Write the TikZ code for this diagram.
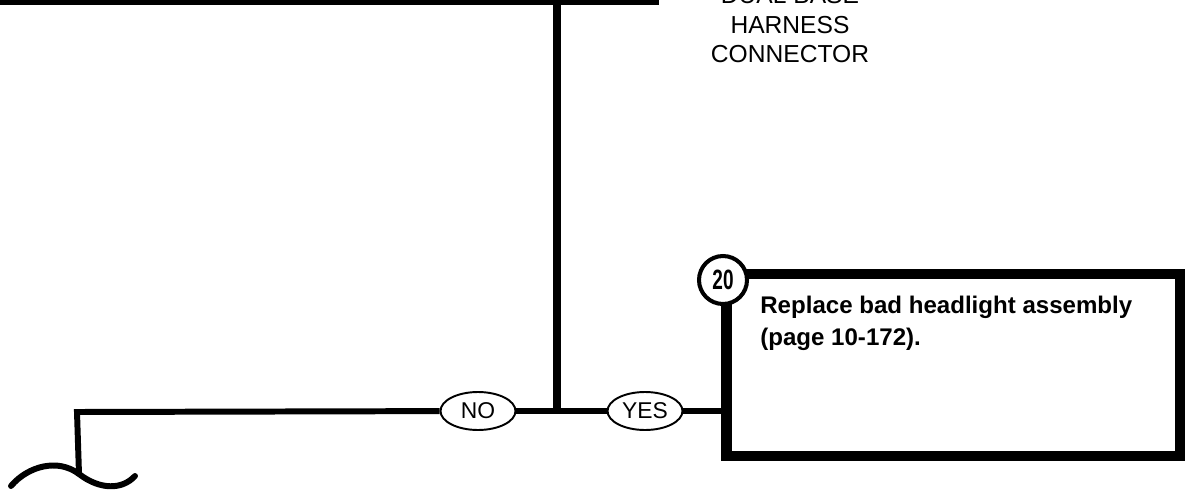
\documentclass[tikz,border=0pt]{standalone}
\usepackage{fontspec}
\setmainfont{Liberation Sans}
\usepackage{graphicx}
\usetikzlibrary{positioning, shapes.geometric, calc}

\begin{document}
\begin{tikzpicture}[
  x=0.02cm, y=-0.02cm,
  panel/.style={
    draw, line width=6.2pt,
    minimum width=9.08cm, minimum height=3.64cm
  },
  answer/.style={
    ellipse, draw, line width=1.1pt, fill=white,
    minimum width=1.5cm, minimum height=0.76cm, inner sep=0pt,
    font=\fontsize{13}{15}\selectfont
  },
  stepnum/.style={
    circle, draw, line width=2.3pt, fill=white,
    minimum size=0.96cm, inner sep=0pt,
    font=\fontsize{15.9}{18}\selectfont\bfseries
  },
  steptext/.style={align=left, inner sep=0pt, font=\fontsize{13.7}{18.1}\selectfont\bfseries},
  partlabel/.style={align=center, inner sep=0pt, font=\fontsize{14}{16.7}\selectfont},
  wire/.style={line width=3.4pt}
]
  \useasboundingbox (0,0) rectangle (1189,497);

  \node[panel, minimum width=14cm, minimum height=3cm, anchor=south east] (harness) at (659,5) {};
  \node[panel] (replace) at (953,365) {};
  \node[stepnum] (num) at (723,280) {\scalebox{0.68}[1]{20}};
  \node[steptext, anchor=north west] (replacetext) at (760,296) {Replace bad headlight assembly\\(page 10-172).};
  \node[answer] (no) at (478,411) {NO};
  \node[answer] (yes) at (645,411) {YES};
  \node[partlabel, anchor=south] (connector) at (790,63) {DUAL BASE\\HARNESS\\CONNECTOR};

  \coordinate (tee) at (557,412);
  \coordinate (bend) at (77,412);
  \coordinate (wave) at (79,474);

  \draw[wire, line width=4pt] (tee |- harness.south) -- (tee);
  \draw[wire] (no) -- (yes);
  \draw[wire] (yes) -- (yes -| replace.west);
  \draw[wire] (no) -- (bend) -- (wave);
  \draw[wire, line cap=round] (11,486) .. controls (28,466) and (58,458) .. (wave)
    .. controls (100,490) and (122,490) .. (135,476);
\end{tikzpicture}
\end{document}
